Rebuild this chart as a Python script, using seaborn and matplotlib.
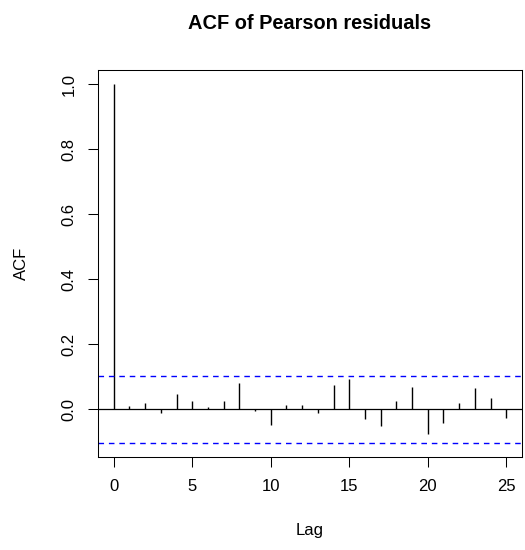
import matplotlib
matplotlib.use("Agg")
import matplotlib.pyplot as plt
import pandas as pd
import seaborn as sns

# ACF values
lags = list(range(26))
acf_values = [1.0, 0.012, 0.021, -0.010, 0.048, 0.027, 0.009, 0.025, 0.081,
              -0.005, -0.047, 0.013, 0.015, -0.010, 0.076, 0.093, -0.030,
              -0.051, 0.025, 0.069, -0.076, -0.040, 0.021, 0.067, 0.035, -0.027]
conf_bound = 0.102
x_ticks = [0, 5, 10, 15, 20, 25]
y_ticks = [0.0, 0.2, 0.4, 0.6, 0.8, 1.0]

df = pd.DataFrame({"lag": lags, "acf": acf_values})

sns.set_theme(style="white", rc={
    "axes.edgecolor": "black",
    "axes.linewidth": 0.75,
    "axes.labelcolor": "black",
    "text.color": "black",
    "xtick.bottom": True,
    "ytick.left": True,
    "xtick.color": "black",
    "ytick.color": "black",
})
plt.rcParams["font.family"] = ["Liberation Sans", "DejaVu Sans"]

fig = plt.figure(figsize=(5.25, 5.5), dpi=100)
ax = fig.add_axes([98 / 525, 1 - 457 / 550, 424 / 525, 387 / 550])

# stems
ax.vlines(df["lag"], 0, df["acf"], color="black", linewidth=1.0)
ax.axhline(0, color="black", linewidth=0.9)

# confidence bounds
for b in (conf_bound, -conf_bound):
    ax.axhline(b, color="#0000FF", linewidth=1.0, linestyle=(0, (4, 3.5)))

ax.set_xlim(-1, 26)
ax.set_ylim(-0.1461, 1.0441)
ax.set_xticks(x_ticks)
ax.set_yticks(y_ticks)
ax.set_yticklabels([f"{v:.1f}" for v in y_ticks], rotation=90, va="center")
ax.tick_params(axis="both", labelsize=12, length=7.5, width=0.75, pad=8,
               direction="out", colors="black")

ax.set_title("ACF of Pearson residuals", fontsize=14.4, fontweight="bold",
             pad=29.5, color="black")
ax.set_xlabel("Lag", fontsize=12)
ax.set_ylabel("ACF", fontsize=12)
ax.xaxis.set_label_coords(0.5, -0.171)
ax.yaxis.set_label_coords(-0.162, 0.5)

fig.savefig("out.png", dpi=100, facecolor="white")
